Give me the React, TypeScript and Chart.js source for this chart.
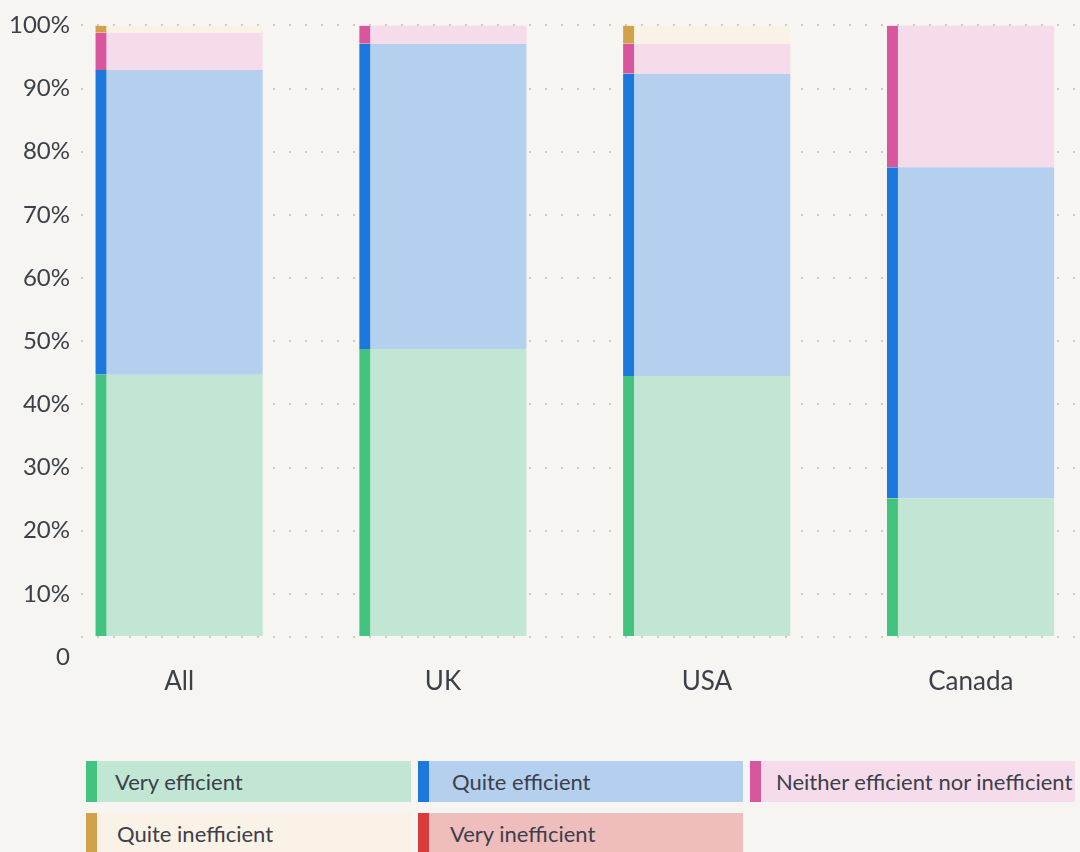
import React, { useEffect, useRef } from "react";
import { Chart, registerables } from "chart.js";
Chart.register(...registerables);

const categories = ["All", "UK", "USA", "Canada"];
const seriesNames = [
  "Very efficient",
  "Quite efficient",
  "Neither efficient nor inefficient",
  "Quite inefficient",
  "Very inefficient",
];
const veryEfficient = [42.9, 47.1, 42.7, 22.7];
const quiteEfficient = [49.8, 49.9, 49.4, 54.1];
const neitherEfficient = [6.1, 3.0, 4.9, 23.2];
const quiteInefficient = [1.2, 0, 3.0, 0];
const veryInefficient = [0, 0, 0, 0];
const yTickValues = [0, 10, 20, 30, 40, 50, 60, 70, 80, 90, 100];
const yTickLabels = ["0", "10%", "20%", "30%", "40%", "50%", "60%", "70%", "80%", "90%", "100%"];

const strongColors = ["#43C37F", "#1C78DC", "#D8569D", "#D1A24A", "#DC3B3B"];
const lightColors = ["#C1E6D4", "#B5D0EE", "#F6DBEA", "#FAF2E6", "#F0BDBD"];
const legendIndent = [29, 34, 26, 31, 32];

const FONT = "Lato, 'Open Sans', sans-serif";
const TEXT = "#3b4049";
const DOT = "#c9c9cf";
const BG = "#F7F5F1";

export default function App() {
  const ref = useRef<HTMLCanvasElement | null>(null);

  useEffect(() => {
    document.body.style.margin = "0";
    document.body.style.background = BG;
    const series = [veryEfficient, quiteEfficient, neitherEfficient, quiteInefficient, veryInefficient];
    const chart = new Chart(ref.current as HTMLCanvasElement, {
      type: "bar",
      data: {
        datasets: series.map((vals, k) => ({
          label: seriesNames[k],
          data: vals.map((v, i) => ({ x: i, y: v })),
          backgroundColor: lightColors[k],
          borderColor: strongColors[k],
          borderWidth: { left: 11, right: 0, top: 0, bottom: 0 },
          borderSkipped: false,
          barThickness: 167,
          yAxisID: "y",
        })),
      },
      options: {
        responsive: false,
        animation: false,
        layout: { padding: { top: 23, left: 0, right: 0, bottom: 0 } },
        plugins: { legend: { display: false }, tooltip: { enabled: false } },
        scales: {
          x: {
            type: "linear",
            stacked: true,
            bounds: "data",
            offset: false,
            min: -0.372,
            max: 3.414,
            grid: { display: false, drawTicks: false, offset: false },
            border: { display: false },
            afterBuildTicks: (s: any) => {
              s.ticks = categories.map((_, i) => ({ value: i }));
            },
            afterFit: (s: any) => {
              s.height = 63;
            },
            ticks: {
              autoSkip: false,
              maxRotation: 0,
              padding: 9,
              color: TEXT,
              font: { family: FONT, size: 26 },
              callback: (v: any) => categories[v] ?? "",
            },
          },
          y: {
            type: "linear",
            stacked: true,
            position: "left",
            bounds: "data",
            min: -3.25,
            max: 100,
            afterBuildTicks: (s: any) => {
              s.ticks = [{ value: 0 }];
            },
            afterFit: (s: any) => {
              s.width = 0;
            },
            ticks: { display: false },
            grid: {
              drawTicks: false,
              lineWidth: 2,
              color: (c: any) => (c.tick && c.tick.value === 0 ? DOT : "rgba(0,0,0,0)"),
            },
            border: { display: false, dash: [2, 14] },
          },
          yl: {
            type: "linear",
            position: "left",
            bounds: "data",
            min: 0,
            max: 100,
            afterBuildTicks: (s: any) => {
              s.ticks = yTickValues.map((v) => ({ value: v }));
            },
            afterFit: (s: any) => {
              s.width = 81;
            },
            ticks: {
              padding: 11,
              color: TEXT,
              font: { family: FONT, size: 24 },
              callback: (v: any) => yTickLabels[yTickValues.indexOf(v)] ?? "",
            },
            grid: {
              drawTicks: false,
              lineWidth: 2,
              color: (c: any) => (c.tick && c.tick.value === 0 ? "rgba(0,0,0,0)" : DOT),
            },
            border: { display: false, dash: [2, 14] },
          },
        },
      } as any,
    });
    return () => chart.destroy();
  }, []);

  return (
    <div style={{ position: "relative", width: 1080, height: 852, background: BG, overflow: "hidden" }}>
      <canvas ref={ref} width={1080} height={720} style={{ position: "absolute", left: 0, top: 0 }} />
      <div
        style={{
          position: "absolute",
          left: 86,
          top: 761,
          width: 989,
          display: "flex",
          flexWrap: "wrap",
          columnGap: 7,
          rowGap: 11,
        }}
      >
        {seriesNames.map((name, k) => (
          <div
            key={name}
            style={{
              boxSizing: "border-box",
              width: 325,
              height: 41,
              background: lightColors[k],
              borderLeft: `11px solid ${strongColors[k]}`,
              paddingLeft: legendIndent[k] - 11,
              display: "flex",
              alignItems: "center",
              fontFamily: FONT,
              fontSize: 22,
              color: TEXT,
              whiteSpace: "nowrap",
            }}
          >
            {name}
          </div>
        ))}
      </div>
    </div>
  );
}
